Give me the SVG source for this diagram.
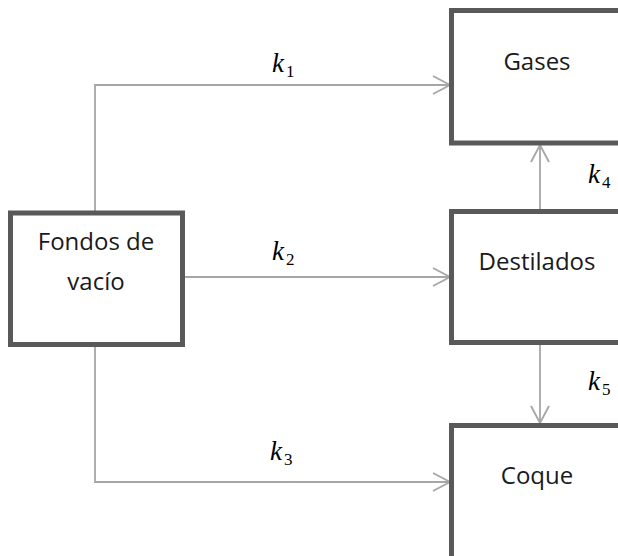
<svg xmlns="http://www.w3.org/2000/svg" width="618" height="556" viewBox="0 0 618 556">
<style>
.box{fill:#fff;stroke:#595959;stroke-width:5}
.lbl{font-family:"Open Sans","Noto Sans",sans-serif;font-size:24px;fill:#1a1a1a;text-anchor:middle}
.con{fill:none;stroke:#a6a6a6;stroke-width:1.8}
.k{font-family:"Liberation Serif",serif;font-style:italic;font-size:27px;fill:#000}
.sub{font-family:"Liberation Serif",serif;font-size:17px;fill:#000;font-style:normal}
</style>
<defs>
<marker id="ah" markerUnits="userSpaceOnUse" markerWidth="20" markerHeight="22" viewBox="-19 -11 20 22" refX="0" refY="0" orient="auto">
<path d="M-17,-9 L0,0 L-17,9" fill="none" stroke="#a6a6a6" stroke-width="1.8"/>
</marker>
</defs>
<rect width="618" height="556" fill="#fff"/>
<g id="connectors">
<path class="con" d="M95,211 V85 H450" marker-end="url(#ah)"/>
<path class="con" d="M183,277 H450" marker-end="url(#ah)"/>
<path class="con" d="M95,347 V482 H450" marker-end="url(#ah)"/>
<path class="con" d="M540,209 V145" marker-end="url(#ah)"/>
<path class="con" d="M540,345 V423" marker-end="url(#ah)"/>
</g>
<g id="labels">
<text class="k" x="272" y="72">k<tspan class="sub" dx="2" dy="5">1</tspan></text>
<text class="k" x="272" y="260">k<tspan class="sub" dx="2" dy="5">2</tspan></text>
<text class="k" x="270" y="460">k<tspan class="sub" dx="2" dy="5">3</tspan></text>
<text class="k" x="588" y="183">k<tspan class="sub" dx="2" dy="5">4</tspan></text>
<text class="k" x="588" y="390">k<tspan class="sub" dx="2" dy="5">5</tspan></text>
</g>
<g id="fondos">
<rect class="box" x="10.5" y="213" width="172" height="131.5"/>
<text class="lbl" x="96" y="250">Fondos de</text>
<text class="lbl" x="96" y="290">vacío</text>
</g>
<g id="gases">
<rect class="box" x="451.5" y="10.5" width="200" height="132.5"/>
<text class="lbl" x="537" y="70">Gases</text>
</g>
<g id="destilados">
<rect class="box" x="451.5" y="211.5" width="200" height="131"/>
<text class="lbl" x="537" y="270">Destilados</text>
</g>
<g id="coque">
<rect class="box" x="451.5" y="425.5" width="200" height="160"/>
<text class="lbl" x="537" y="484">Coque</text>
</g>
</svg>
